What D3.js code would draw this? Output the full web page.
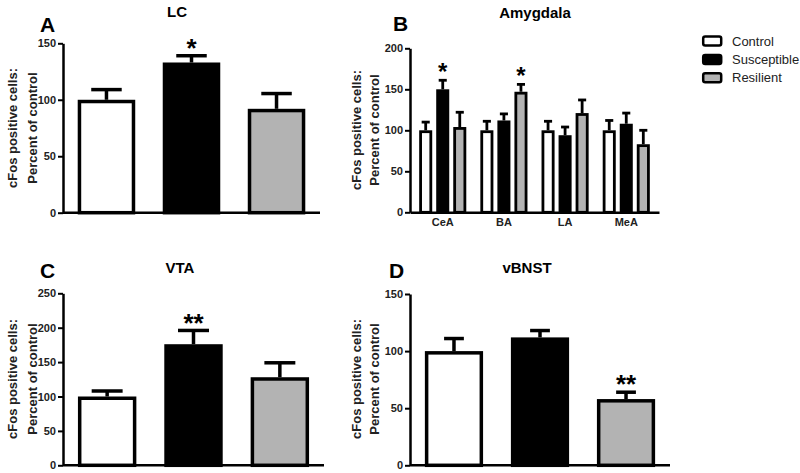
<!DOCTYPE html>
<html>
<head>
<meta charset="utf-8">
<script src="https://cdn.jsdelivr.net/npm/d3@7"></script>
<style>
  body { margin: 0; background: #fff; }
  svg { display: block; font-family: "Liberation Sans", Arial, sans-serif; }
</style>
</head>
<body>
<svg id="chart" width="800" height="473"></svg>
<script>
// ---------- DATA ----------
const groups = ["Control", "Susceptible", "Resilient"];
const groupFills = ["#ffffff", "#000000", "#b3b3b3"];

// Panel A: LC
const lcValues = [100, 133, 92];
const lcSem = [9, 6, 13.5];
const lcSig = ["", "*", ""];
const lcTicks = [0, 50, 100, 150];

// Panel B: Amygdala
const amyRegions = ["CeA", "BA", "LA", "MeA"];
const amyControl = [100, 100, 100, 100];
const amySusceptible = [150, 112, 94, 108];
const amyResilient = [104, 147, 121, 83];
const amyControlSem = [10, 11, 11, 12];
const amySusceptibleSem = [11, 8, 10, 13];
const amyResilientSem = [18, 9, 16, 17];
const amySig = [["", "*", ""], ["", "", "*"], ["", "", ""], ["", "", ""]];
const amyTicks = [0, 50, 100, 150, 200];

// Panel C: VTA
const vtaValues = [100, 176, 128];
const vtaSem = [8, 20, 21];
const vtaSig = ["", "**", ""];
const vtaTicks = [0, 50, 100, 150, 200, 250];

// Panel D: vBNST
const bnstValues = [100, 112, 58];
const bnstSem = [11, 6, 6];
const bnstSig = ["", "", "**"];
const bnstTicks = [0, 50, 100, 150];

const yLabel1 = "cFos positive cells:";
const yLabel2 = "Percent of control";

// ---------- DRAW ----------
const svg = d3.select("#chart");
const FONT = '"Liberation Sans", Arial, sans-serif';

function yAxis(g, y, ticks, x0) {
  const ax = g.append("g")
    .attr("transform", `translate(${x0},0)`)
    .call(d3.axisLeft(y).tickValues(ticks).tickSize(5).tickSizeOuter(0).tickPadding(2));
  ax.select(".domain").attr("stroke", "#000").attr("stroke-width", 2.5);
  ax.selectAll(".tick line").attr("stroke", "#000").attr("stroke-width", 2);
  ax.selectAll(".tick text")
    .attr("font-family", FONT).attr("font-size", 11).attr("font-weight", "bold").attr("fill", "#222");
  return ax;
}

function labels(g, opt) {
  g.append("text").attr("x", opt.letterX).attr("y", opt.letterY)
    .attr("font-size", 21).attr("font-weight", "bold").text(opt.letter);
  g.append("text").attr("x", opt.titleX).attr("y", opt.titleY).attr("text-anchor", "middle")
    .attr("font-size", 15).attr("font-weight", "bold").text(opt.title);
  const cy = opt.yLabelY;
  g.append("text").attr("transform", `translate(${opt.yl1X},${cy}) rotate(-90)`)
    .attr("text-anchor", "middle").attr("font-size", 13).attr("font-weight", "bold")
    .attr("fill", "#222").text(yLabel1);
  g.append("text").attr("transform", `translate(${opt.yl2X},${cy}) rotate(-90)`)
    .attr("text-anchor", "middle").attr("font-size", 13).attr("font-weight", "bold")
    .attr("fill", "#222").text(yLabel2);
}

function drawBars(g, data, y, sw, capFrac, starSize) {
  // data: [{x, w, v, sem, fill, sig}]
  const bars = g.selectAll(null).data(data).enter().append("g");
  // error bars (drawn first, behind bar top edge)
  bars.append("line")
    .attr("x1", d => d.x + d.w / 2).attr("x2", d => d.x + d.w / 2)
    .attr("y1", d => y(d.v)).attr("y2", d => y(d.v + d.sem))
    .attr("stroke", "#000").attr("stroke-width", sw);
  bars.append("line")
    .attr("x1", d => d.x + d.w / 2 - d.w * capFrac / 2).attr("x2", d => d.x + d.w / 2 + d.w * capFrac / 2)
    .attr("y1", d => y(d.v + d.sem)).attr("y2", d => y(d.v + d.sem))
    .attr("stroke", "#000").attr("stroke-width", sw);
  bars.append("rect")
    .attr("x", d => d.x + sw / 2).attr("width", d => d.w - sw)
    .attr("y", d => y(d.v) + sw / 2).attr("height", d => y(0) - y(d.v) - sw / 2)
    .attr("fill", d => d.fill).attr("stroke", "#000").attr("stroke-width", sw);
  bars.filter(d => d.sig).append("text")
    .attr("x", d => d.x + d.w / 2).attr("y", d => y(d.v + d.sem) - 14 + starSize * 0.58)
    .attr("text-anchor", "middle").attr("font-size", starSize).attr("font-weight", "bold")
    .text(d => d.sig);
}

function simplePanel(opt) {
  const g = svg.append("g");
  const x = d3.scaleBand().domain(groups).range([opt.x0, opt.x1])
    .paddingInner(0.3235).paddingOuter(0.173);
  const y = d3.scaleLinear().domain([0, opt.max]).range([opt.y0, opt.yTop]);
  const data = groups.map((k, i) => ({
    x: x(k), w: x.bandwidth(), v: opt.values[i], sem: opt.sem[i], fill: groupFills[i], sig: opt.sig[i]
  }));
  drawBars(g, data, y, 3.5, opt.capFrac, 26);
  // x axis line
  g.append("line").attr("x1", opt.x0).attr("x2", opt.x1).attr("y1", y(0)).attr("y2", y(0))
    .attr("stroke", "#000").attr("stroke-width", 2.5);
  yAxis(g, y, opt.ticks, opt.x0);
  labels(g, opt);
}

// Panel A
simplePanel({
  x0: 63, x1: 320, y0: 212.7, yTop: 43.3, max: 150,
  values: lcValues, sem: lcSem, sig: lcSig, ticks: lcTicks, capFrac: 0.53,
  letter: "A", letterX: 40, letterY: 32, title: "LC", titleX: 177, titleY: 17,
  yl1X: 17, yl2X: 37, yLabelY: 128
});

// Panel C
simplePanel({
  x0: 63, x1: 324, y0: 465.3, yTop: 293.3, max: 250,
  values: vtaValues, sem: vtaSem, sig: vtaSig, ticks: vtaTicks, capFrac: 0.53,
  letter: "C", letterX: 40, letterY: 278, title: "VTA", titleX: 180, titleY: 273,
  yl1X: 17, yl2X: 37, yLabelY: 379
});

// Panel D
simplePanel({
  x0: 410, x1: 670, y0: 465.3, yTop: 294, max: 150,
  values: bnstValues, sem: bnstSem, sig: bnstSig, ticks: bnstTicks, capFrac: 0.34,
  letter: "D", letterX: 389, letterY: 278, title: "vBNST", titleX: 527, titleY: 273,
  yl1X: 361, yl2X: 379, yLabelY: 379
});

// Panel B (grouped)
(function () {
  const g = svg.append("g");
  const x0 = 410, x1 = 659;
  const y = d3.scaleLinear().domain([0, 200]).range([212.3, 48.3]);
  const xg = d3.scaleBand().domain(amyRegions).range([x0, x1]).paddingInner(0.23).paddingOuter(0.15);
  const xs = d3.scaleBand().domain(groups).range([0, xg.bandwidth()]).paddingInner(0.235).paddingOuter(0);
  const vals = [amyControl, amySusceptible, amyResilient];
  const sems = [amyControlSem, amySusceptibleSem, amyResilientSem];
  const data = [];
  amyRegions.forEach((r, ri) => {
    groups.forEach((k, gi) => {
      data.push({ x: xg(r) + xs(k), w: xs.bandwidth(), v: vals[gi][ri], sem: sems[gi][ri],
        fill: groupFills[gi], sig: amySig[ri][gi] });
    });
  });
  drawBars(g, data, y, 2.8, 0.62, 24);
  const xa = g.append("g").attr("transform", `translate(0,${y(0)})`)
    .call(d3.axisBottom(xg).tickSize(0).tickPadding(6));
  xa.select(".domain").attr("stroke", "#000").attr("stroke-width", 2.5);
  xa.selectAll(".tick text").attr("font-family", FONT).attr("font-size", 11)
    .attr("font-weight", "bold").attr("fill", "#222");
  yAxis(g, y, amyTicks, x0);
  labels(g, {
    letter: "B", letterX: 393, letterY: 31, title: "Amygdala", titleX: 535, titleY: 18,
    yl1X: 361, yl2X: 379, yLabelY: 130
  });
})();

// Legend
(function () {
  const lg = svg.append("g").attr("transform", "translate(702,41)");
  const rows = lg.selectAll(null).data(groups).enter().append("g")
    .attr("transform", (d, i) => `translate(0,${i * 18.4})`);
  rows.append("rect").attr("x", 1.2).attr("y", -4.5).attr("width", 18).attr("height", 9).attr("rx", 2)
    .attr("fill", (d, i) => groupFills[i]).attr("stroke", "#000").attr("stroke-width", 2.5);
  rows.append("text").attr("x", 30).attr("y", 4.5).attr("font-size", 13).attr("fill", "#222").text(d => d);
})();
</script>
</body>
</html>
